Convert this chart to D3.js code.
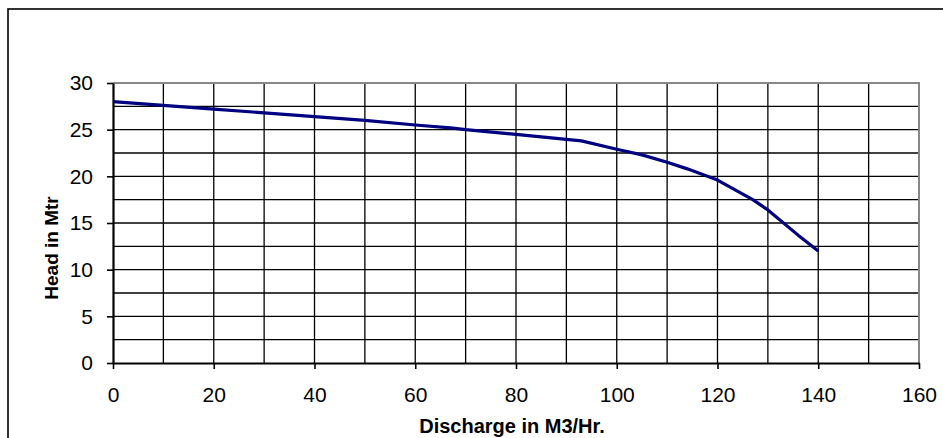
<!DOCTYPE html>
<html><head><meta charset="utf-8">
<script src="https://cdn.jsdelivr.net/npm/d3@7"></script>
<style>
html,body{margin:0;padding:0;background:#fff;}
svg{display:block;font-family:"Liberation Sans",Arial,sans-serif;}
</style></head>
<body><svg id="c" width="943" height="438"></svg>
<script>
const discharge = [0,10,20,30,40,50,60,67,70,80,93,100,105,110,114,118,120,127,130,136,140];
const head      = [28,27.6,27.2,26.8,26.4,26.0,25.5,25.2,25.0,24.5,23.8,22.9,22.3,21.5,20.8,20.0,19.6,17.5,16.4,13.7,12.0];
const xTicks = [0,20,40,60,80,100,120,140,160];
const yTicks = [0,5,10,15,20,25,30];
const xGrid = d3.range(0,161,10);
const yGrid = d3.range(0,30.1,2.5);
const xTitle = "Discharge in M3/Hr.";
const yTitle = "Head in Mtr";

const svg = d3.select("#c");
const L=113,R=919,T=83,B=363;
const x = d3.scaleLinear().domain([0,160]).range([L,R]);
const y = d3.scaleLinear().domain([0,30]).range([B,T]);

// outer frame (cut off right/bottom)
svg.append("rect").attr("x",8).attr("y",9).attr("width",960).attr("height",460)
  .attr("fill","none").attr("stroke","#000").attr("stroke-width",1.6);

// grid
svg.append("g").selectAll("line").data(yGrid.filter(v=>v>0&&v<30)).join("line")
  .attr("x1",L).attr("x2",R).attr("y1",d=>y(d)).attr("y2",d=>y(d))
  .attr("stroke","#000").attr("stroke-width",1.3);
svg.append("g").selectAll("line").data(xGrid.filter(v=>v>0&&v<160)).join("line")
  .attr("y1",T).attr("y2",B).attr("x1",d=>x(d)).attr("x2",d=>x(d))
  .attr("stroke","#000").attr("stroke-width",1.3);
// top/right border gray
svg.append("path").attr("d",`M${L},${T}H${R}V${B}`).attr("fill","none")
  .attr("stroke","#888").attr("stroke-width",2);

// axes
const xa = svg.append("g").attr("transform",`translate(0,${B})`)
  .call(d3.axisBottom(x).tickValues(xTicks).tickSize(6).tickSizeOuter(0).tickPadding(18));
const ya = svg.append("g").attr("transform",`translate(${L},0)`)
  .call(d3.axisLeft(y).tickValues(yTicks).tickSize(6).tickSizeOuter(0).tickPadding(14));
[xa,ya].forEach(a=>{
  a.select(".domain").attr("stroke","#000").attr("stroke-width",2.2);
  a.selectAll(".tick line").attr("stroke","#000").attr("stroke-width",1.6);
  a.selectAll("text").attr("font-size",21).attr("fill","#000")
   .attr("font-family","Liberation Sans, Arial, sans-serif");
});

// curve
svg.append("path").datum(discharge.map((d,i)=>[d,head[i]]))
  .attr("d",d3.line().x(d=>x(d[0])).y(d=>y(d[1])))
  .attr("fill","none").attr("stroke","#000080").attr("stroke-width",3.2)
  .attr("stroke-linejoin","round");

// titles
svg.append("text").attr("x",(L+R)/2-4).attr("y",433).attr("text-anchor","middle")
  .attr("font-size",20).attr("font-weight","bold").text(xTitle);
svg.append("text").attr("transform","translate(58,248) rotate(-90)").attr("text-anchor","middle")
  .attr("font-size",19).attr("font-weight","bold").text(yTitle);
</script></body></html>
